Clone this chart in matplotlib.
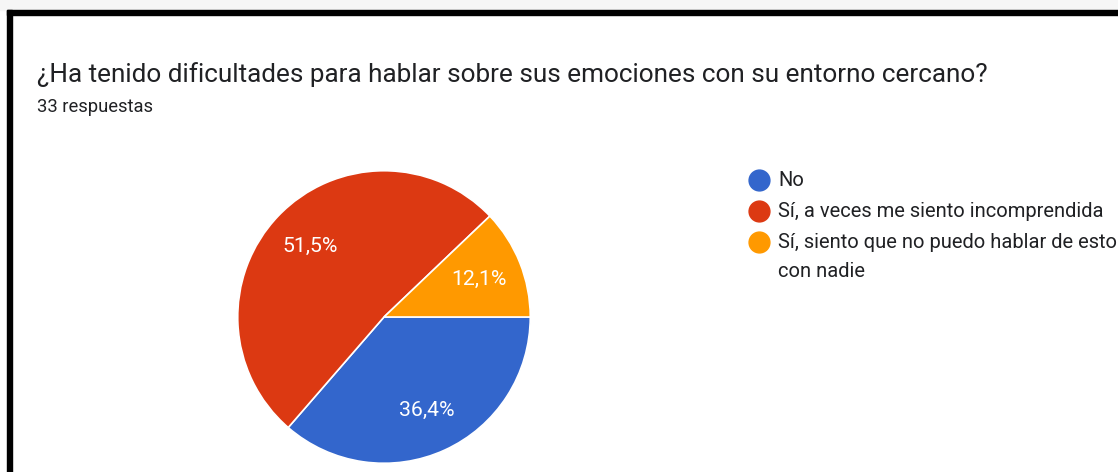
import matplotlib.pyplot as plt
from matplotlib.patches import Rectangle
from matplotlib.lines import Line2D

plt.rcParams['font.family'] = ['Roboto', 'DejaVu Sans']

title = "¿Ha tenido dificultades para hablar sobre sus emociones con su entorno cercano?"
subtitle = "33 respuestas"
labels = ["No", "Sí, a veces me siento incomprendida",
          "Sí, siento que no puedo hablar de esto\ncon nadie"]
counts = [12, 17, 4]
colors = ['#3366cc', '#dc3912', '#ff9900']

W, H = 1118, 472
fig = plt.figure(figsize=(W / 100, H / 100), dpi=100)


def fx(px):
    return px / W


def fy(py):
    return 1 - py / H


# frame of the screenshot
fig.patches.append(Rectangle((0, fy(10)), 1, fy(0) - fy(10), transform=fig.transFigure,
                             color='#f6f6f6', zorder=0))
fig.patches.append(Rectangle((fx(7), fy(15)), 1, fy(10) - fy(15), transform=fig.transFigure,
                             color='black', zorder=1))
fig.patches.append(Rectangle((fx(7), 0), fx(12) - fx(7), fy(10), transform=fig.transFigure,
                             color='black', zorder=1))

fig.text(fx(37), fy(82), title, fontsize=18.8, color='#202124', va='baseline')
fig.text(fx(37), fy(112), subtitle, fontsize=13.2, color='#202124', va='baseline')

# pie
r = 147
cx, cy = 384, 317
ax = fig.add_axes([fx(cx - r), fy(cy + r), (2 * r) / W, (2 * r) / H])


def pct(p):
    return f"{p:.1f}%".replace('.', ',')


wedges, texts, autotexts = ax.pie(counts, colors=colors, startangle=0, counterclock=False,
                                  autopct=pct, pctdistance=0.7,
                                  wedgeprops=dict(edgecolor='white', linewidth=1.2),
                                  textprops=dict(color='white', fontsize=15.3))
ax.set_xlim(-1.005, 1.005)
ax.set_ylim(-1.005, 1.005)
ax.set_aspect('equal')
ax.axis('off')

# legend
ys = [186, 217, 248]
for lab, col, y in zip(labels, colors, ys):
    fig.lines.append(Line2D([fx(759)], [fy(y - 6)], transform=fig.transFigure, marker='o',
                            markersize=15, color=col, linestyle='none'))
    for i, line in enumerate(lab.split('\n')):
        fig.text(fx(778), fy(y + 29 * i), line, fontsize=14.5, color='#202124', va='baseline')

fig.savefig('out.png', dpi=100)
